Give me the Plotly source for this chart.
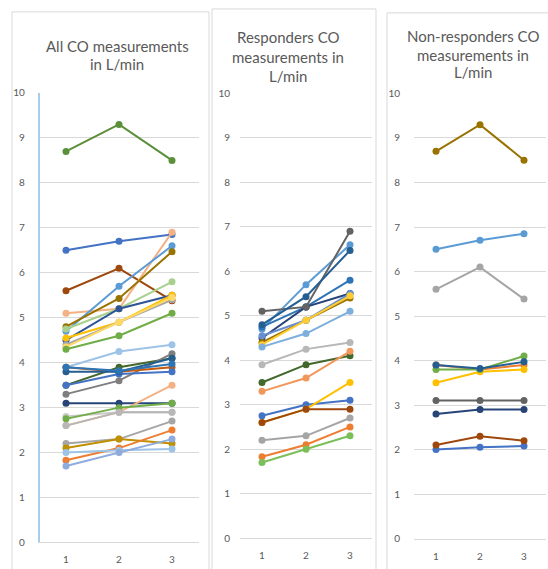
import plotly.graph_objects as go

# ---------------- data ----------------
timepoints = [1, 2, 3]
x_tick_labels = ["1", "2", "3"]
y_tick_values = [0, 1, 2, 3, 4, 5, 6, 7, 8, 9, 10]

# Responders (CO in L/min at measurement 1, 2, 3)
resp_a = [5.1, 5.2, 6.9]
resp_b = [4.7, 5.7, 6.6]
resp_c = [4.8, 5.43, 6.47]
resp_d = [4.75, 5.2, 5.8]
resp_e = [4.5, 5.2, 5.5]
resp_f = [4.55, 4.9, 5.5]
resp_g = [4.4, 4.9, 5.4]
resp_h = [4.35, 4.9, 5.45]
resp_i = [4.3, 4.6, 5.1]
resp_j = [3.9, 4.25, 4.4]
resp_k = [3.5, 3.9, 4.1]
resp_l = [3.3, 3.6, 4.2]
resp_m = [2.75, 3.0, 3.1]
resp_n = [2.6, 2.9, 3.5]
resp_o = [2.6, 2.9, 2.9]
resp_p = [2.2, 2.3, 2.7]
resp_q = [1.83, 2.1, 2.5]
resp_r = [1.7, 2.0, 2.3]

# Non-responders
non_1 = [2.0, 2.05, 2.08]
non_2 = [3.9, 3.8, 3.9]
non_3 = [5.6, 6.1, 5.38]
non_4 = [3.5, 3.75, 3.8]
non_5 = [6.5, 6.7, 6.85]
non_6 = [3.8, 3.8, 4.1]
non_7 = [2.8, 2.9, 2.9]
non_8 = [2.1, 2.3, 2.2]
non_9 = [3.1, 3.1, 3.1]
non_10 = [8.7, 9.3, 8.5]
non_11 = [3.9, 3.82, 3.97]

panel_titles = [
    ["All CO measurements", "in L/min"],
    ["Responders CO", "measurements in", "L/min"],
    ["Non-responders CO", "measurements in", "L/min"],
]

# ---------------- styling ----------------
W, H = 548, 569
TEXT = "#595959"
GRID = "#D9D9D9"
FONT = "Lato"

def px(x):
    return x / W

def py(y):
    return 1 - y / H

# (series, color) per panel, in drawing order
panel1 = [
    (non_10, "#5B8F3A"), (non_5, "#4472C4"), (non_3, "#9E480E"),
    (resp_a, "#F4B183"), (resp_b, "#5B9BD5"), (resp_c, "#997300"),
    (resp_d, "#A9D18E"), (resp_e, "#2F5597"), (resp_f, "#FFC000"),
    (resp_g, "#A5A5A5"), (resp_h, "#FFD966"), (resp_i, "#70AD47"),
    (resp_j, "#9DC3E6"), (resp_k, "#43682B"), (resp_l, "#7F7F7F"),
    (non_2, "#C55A11"), (non_4, "#4472C4"), (non_6, "#255E91"),
    (non_11, "#2E75B6"), (non_9, "#264478"), (resp_n, "#F4B183"),
    (non_7, "#C9C9C9"), (resp_m, "#70AD47"), (resp_o, "#B7B7B7"),
    (resp_p, "#A5A5A5"), (non_8, "#BF9000"), (resp_q, "#ED7D31"),
    (non_1, "#9DC3E6"), (resp_r, "#8FAADC"),
]
panel2 = [
    (resp_m, "#4472C4"), (resp_q, "#ED7D31"), (resp_p, "#A5A5A5"),
    (resp_n, "#FFC000"), (resp_b, "#5B9BD5"), (resp_d, "#2E75B6"),
    (resp_e, "#264478"), (resp_o, "#9E480E"), (resp_a, "#636363"),
    (resp_g, "#997300"), (resp_c, "#255E91"), (resp_k, "#43682B"),
    (resp_f, "#698ED0"), (resp_l, "#F1975A"), (resp_j, "#B7B7B7"),
    (resp_h, "#FFCD33"), (resp_i, "#7CAFDD"), (resp_r, "#7CBF5A"),
]
panel3 = [
    (non_1, "#4472C4"), (non_2, "#ED7D31"), (non_3, "#A5A5A5"),
    (non_4, "#FFC000"), (non_5, "#5B9BD5"), (non_6, "#70AD47"),
    (non_7, "#264478"), (non_8, "#9E480E"), (non_9, "#636363"),
    (non_10, "#997300"), (non_11, "#255E91"),
]

# plot-area geometry in pixels: (left, right, y of value 0, y of value 10)
geoms = [
    (39.5, 198.5, 548, 88),
    (240, 372, 543.5, 88.5),
    (414, 546, 544, 88.5),
]
y_standoff = [11, 9, 13]
x_standoff = [8, 8, 8]
title_lines_y = [[40, 58], [31, 51, 71], [30, 49, 67]]
title_center_x = [117, 288, 473]

fig = go.Figure()

for i, series_list in enumerate([panel1, panel2, panel3]):
    xa = "x" if i == 0 else f"x{i+1}"
    ya = "y" if i == 0 else f"y{i+1}"
    for vals, col in series_list:
        fig.add_trace(go.Scatter(
            x=timepoints, y=vals, xaxis=xa, yaxis=ya, mode="lines+markers",
            line=dict(color=col, width=2),
            marker=dict(color=col, size=7),
            showlegend=False, hoverinfo="skip",
        ))
    l, r, y0, y10 = geoms[i]
    xkey = "xaxis" if i == 0 else f"xaxis{i+1}"
    ykey = "yaxis" if i == 0 else f"yaxis{i+1}"
    fig.update_layout(**{
        xkey: dict(
            domain=[px(l), px(r)], range=[0.5, 3.5], tickvals=timepoints,
            ticktext=x_tick_labels, showgrid=False, zeroline=False,
            showline=True, linecolor=GRID, linewidth=1,
            ticks="", ticklabelstandoff=x_standoff[i],
            tickfont=dict(family=FONT, size=10, color=TEXT),
            anchor=ya, fixedrange=True,
        ),
        ykey: dict(
            domain=[py(y0), py(y10)], range=[0, 10], tickvals=y_tick_values,
            showgrid=True, gridcolor=GRID, gridwidth=1, zeroline=False,
            showline=(i == 0), linecolor="#A9CCEB", linewidth=1.5,
            ticks="", ticklabelstandoff=y_standoff[i],
            tickfont=dict(family=FONT, size=10, color=TEXT),
            anchor=xa, fixedrange=True,
        ),
    })
    for line_text, ly in zip(panel_titles[i], title_lines_y[i]):
        fig.add_annotation(
            text=line_text, x=px(title_center_x[i]), y=py(ly),
            xref="paper", yref="paper", xanchor="center", yanchor="middle",
            showarrow=False, font=dict(family=FONT, size=15, color=TEXT),
        )

# chart frames
frames = [(12, 5, 209, 580), (212, 2, 376, 580), (387, 6, 560, 580)]
for (x0, y0, x1, y1) in frames:
    fig.add_shape(type="rect", xref="paper", yref="paper",
                  x0=px(x0), x1=px(x1), y0=py(y1), y1=py(y0),
                  line=dict(color=GRID, width=1), layer="below")

fig.update_layout(
    width=W, height=H, margin=dict(l=0, r=0, t=0, b=0),
    paper_bgcolor="white", plot_bgcolor="white",
    showlegend=False,
)

fig.write_html(
    "out.html",
    config={"displayModeBar": False},
    post_script="document.body.style.margin='0';document.body.style.overflow='hidden';",
)
